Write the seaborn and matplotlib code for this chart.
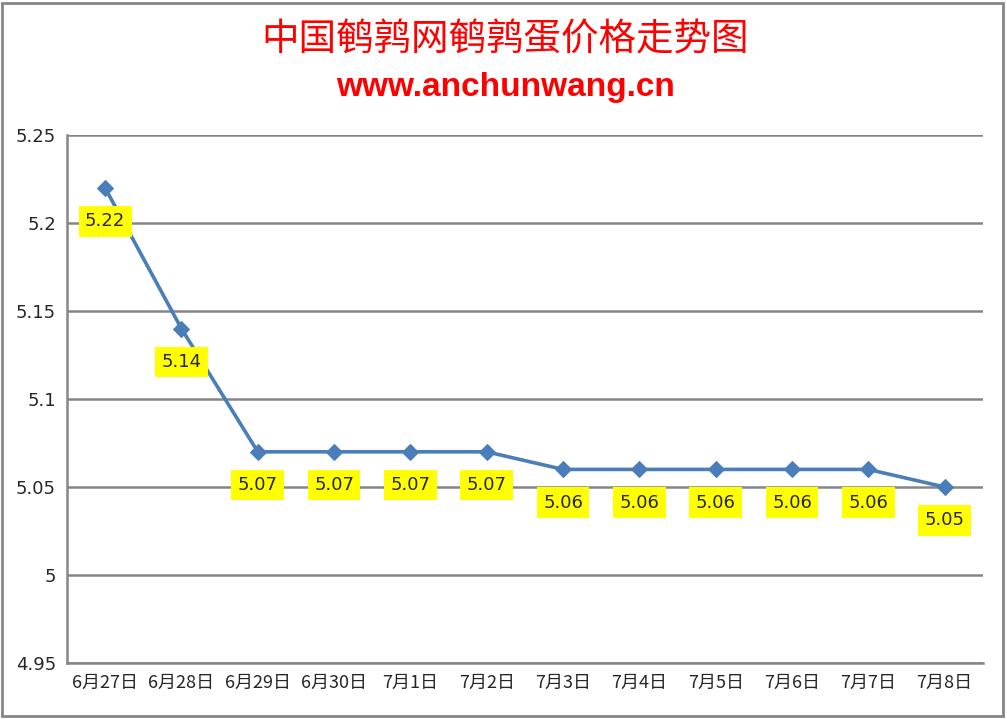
import numpy as np
import pandas as pd
import seaborn as sns
import matplotlib.pyplot as plt
from matplotlib.patches import Rectangle
from matplotlib.ticker import FormatStrFormatter

dates = ["6月27日", "6月28日", "6月29日", "6月30日", "7月1日", "7月2日",
         "7月3日", "7月4日", "7月5日", "7月6日", "7月7日", "7月8日"]
prices = [5.22, 5.14, 5.07, 5.07, 5.07, 5.07, 5.06, 5.06, 5.06, 5.06, 5.06, 5.05]
yticks = [4.95, 5.0, 5.05, 5.1, 5.15, 5.2, 5.25]

sns.set_style("white")
plt.rcParams['font.family'] = ['Noto Sans CJK SC', 'DejaVu Sans']

df = pd.DataFrame({"date": dates, "price": prices})

fig = plt.figure(figsize=(10.07, 7.19), dpi=100)
ax = fig.add_axes([0.0665, 0.078, 0.9095, 0.734])

sns.lineplot(data=df, x="date", y="price", sort=False, ax=ax,
             color="#4a7ebb", lw=2.6, marker="D", markersize=8,
             markeredgecolor="#4a7ebb")

for i, v in enumerate(prices):
    ax.annotate(f"{v:.2f}", (i, v), xytext=(0, -24), textcoords="offset points",
                ha="center", va="center", fontsize=13, family="DejaVu Sans",
                bbox=dict(boxstyle="square,pad=0.35", fc="#ffff00", ec="none"))

ax.set_xlim(-0.5, len(dates) - 0.5)
ax.set_ylim(4.95, 5.25)
ax.set_yticks(yticks)
ax.yaxis.set_major_formatter(FormatStrFormatter('%g'))
ax.grid(axis="y", color="#868686", lw=1.8)
ax.set_axisbelow(True)
ax.set(xlabel="", ylabel="")
for s in ["top", "right"]:
    ax.spines[s].set_visible(False)
for s in ["left", "bottom"]:
    ax.spines[s].set_color("#868686")
    ax.spines[s].set_linewidth(1.8)
ax.tick_params(axis="both", length=0, labelsize=13, pad=8)
for lab in ax.get_yticklabels():
    lab.set_family("DejaVu Sans")

fig.text(0.502, 0.945, "中国鹌鹑网鹌鹑蛋价格走势图", color="#ff0000",
         fontsize=27, ha="center", va="center")
fig.text(0.502, 0.878, "www.anchunwang.cn", color="#ff0000", fontsize=24,
         fontweight="bold", family="Liberation Sans", ha="center", va="center")

fig.patches.append(Rectangle((0.002, 0.004), 0.994, 0.992, transform=fig.transFigure,
                             fill=False, ec="#868686", lw=2))

fig.savefig("out.png", dpi=100)
